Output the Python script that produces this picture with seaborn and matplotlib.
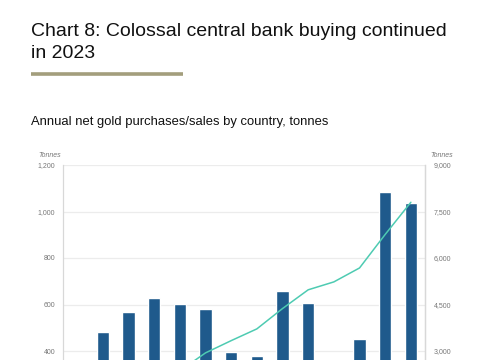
import matplotlib
matplotlib.use("Agg")
import matplotlib.pyplot as plt
import seaborn as sns
import numpy as np
import pandas as pd

years = ["2010", "2011", "2012", "2013", "2014", "2015", "2016",
         "2017", "2018", "2019", "2020", "2021", "2022", "2023"]
annual = [79, 481, 569, 629, 601, 580, 395, 379, 656, 605, 255, 450, 1082, 1037]
cumulative = [79, 560, 1129, 1758, 2359, 2939, 3334, 3713, 4369, 4974, 5229, 5679, 6761, 7798]
left_ticks = [400, 600, 800, 1000, 1200]
right_ticks = [3000, 4500, 6000, 7500, 9000]

title_lines = ["Chart 8: Colossal central bank buying continued", "in 2023"]
subtitle = "Annual net gold purchases/sales by country, tonnes"

sns.set_theme(style="white")
plt.rcParams["font.family"] = ["Liberation Sans", "DejaVu Sans"]

bar_color = "#1f5a8c"
line_color = "#4ecbb2"
tick_color = "#777777"
grid_color = "#ececec"

df = pd.DataFrame({"year": years, "annual": annual, "cumulative": cumulative})

fig = plt.figure(figsize=(4.85, 3.6), dpi=100)
ax = fig.add_axes([63 / 485, (360 - 444) / 360, (425 - 63) / 485, (444 - 165) / 360])

sns.barplot(data=df, x="year", y="annual", color=bar_color, width=0.47,
            saturation=1, ax=ax, zorder=2)
ax.set_ylim(0, 1200)
ax.set_xlim(-0.55, len(years) - 0.45)
ax.set_yticks(left_ticks)
ax.set_yticklabels([f"{v:,}" for v in left_ticks])
ax.yaxis.grid(True, color=grid_color, linewidth=0.9, zorder=0)
ax.set_axisbelow(True)
ax.set_xlabel("")
ax.set_ylabel("")
ax.tick_params(axis="y", length=0, pad=5.5, labelsize=5, labelcolor=tick_color)
ax.tick_params(axis="x", length=0, labelbottom=False)
for s in ["top", "bottom"]:
    ax.spines[s].set_visible(False)
ax.spines["left"].set_color("#d8d8d8")
ax.spines["right"].set_color("#d8d8d8")
ax.spines["left"].set_linewidth(0.9)
ax.spines["right"].set_linewidth(0.9)

ax2 = ax.twinx()
sns.lineplot(x=np.arange(len(years)), y=df["cumulative"], color=line_color,
             linewidth=1.1, ax=ax2, zorder=3)
ax2.set_ylim(0, 9000)
ax2.set_yticks(right_ticks)
ax2.set_yticklabels([f"{v:,}" for v in right_ticks])
ax2.set_ylabel("")
ax2.tick_params(axis="y", length=0, pad=6.5, labelsize=5, labelcolor=tick_color)
for s in ["top", "bottom", "left"]:
    ax2.spines[s].set_visible(False)
ax2.spines["right"].set_color("#d8d8d8")
ax2.spines["right"].set_linewidth(0.9)
ax2.grid(False)

fig.text(38 / 485, 1 - 155.5 / 360, "Tonnes", fontsize=5, style="italic",
         color=tick_color, ha="left", va="center")
fig.text(430 / 485, 1 - 155.5 / 360, "Tonnes", fontsize=5, style="italic",
         color=tick_color, ha="left", va="center")

fig.text(31 / 485, 1 - 36 / 360, title_lines[0], fontsize=14, color="#111111",
         ha="left", va="baseline")
fig.text(31 / 485, 1 - 58 / 360, title_lines[1], fontsize=14, color="#111111",
         ha="left", va="baseline")
fig.text(31 / 485, 1 - 125 / 360, subtitle, fontsize=9.4, color="#111111",
         ha="left", va="baseline")
fig.add_artist(plt.Line2D([31 / 485, 183 / 485], [1 - 73.5 / 360, 1 - 73.5 / 360],
                          color="#a39e7c", linewidth=2.6, solid_capstyle="butt"))

fig.savefig("out.png", dpi=100)
